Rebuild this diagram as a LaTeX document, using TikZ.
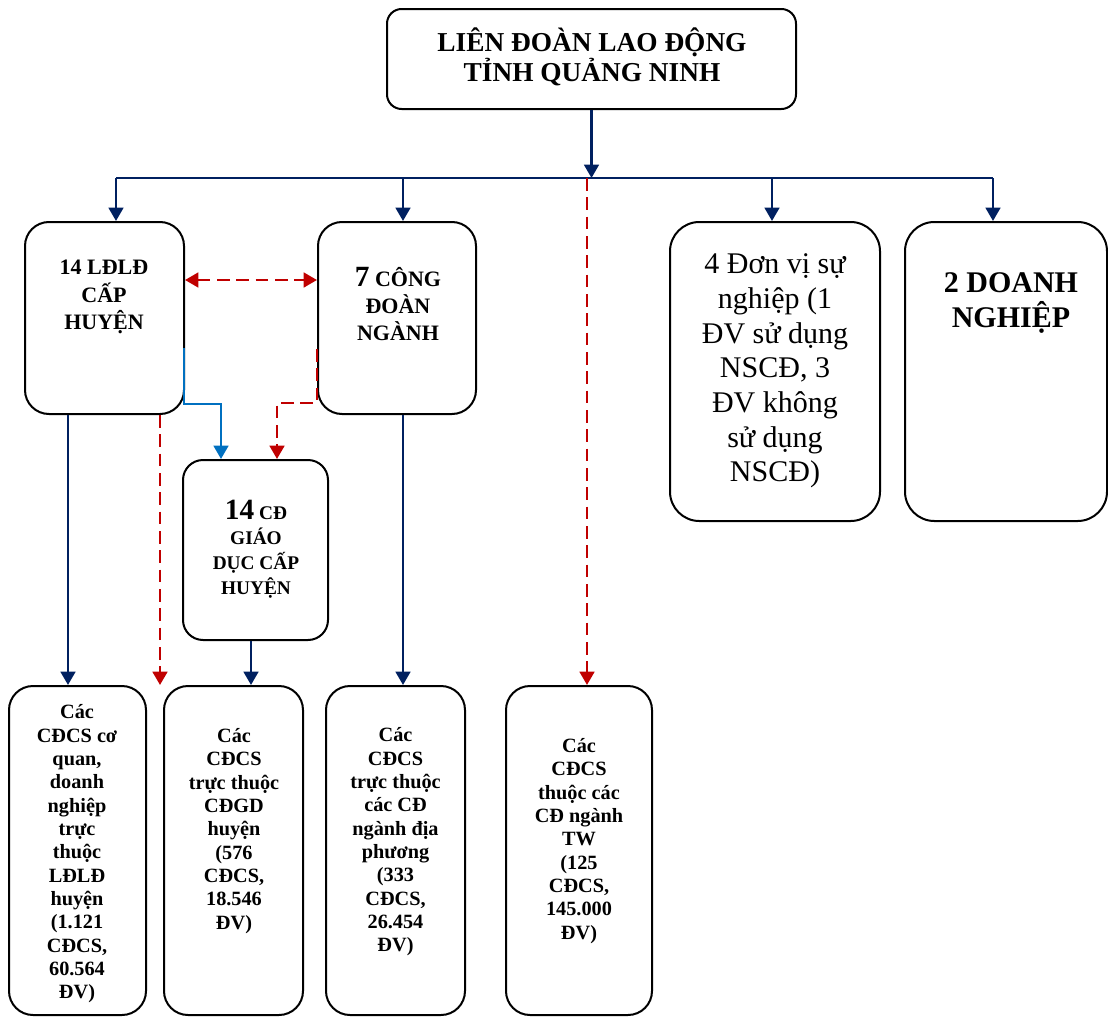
\documentclass[tikz,border=0pt]{standalone}
\usepackage{fontspec}
\setmainfont{Liberation Serif}
\usetikzlibrary{arrows.meta,calc}
\definecolor{ldNavy}{HTML}{002060}
\definecolor{ldRed}{HTML}{C00000}
\definecolor{ldBlue}{HTML}{0070C0}

\begin{document}
\begin{tikzpicture}[x=0.75pt,y=0.75pt,yscale=-1,xscale=1,
  box/.style={draw=black,line width=1.5pt,fill=white,inner sep=0pt,rounded corners=18pt},
  txt/.style={align=center,inner sep=0pt},
  small/.style={font=\fontsize{15.2}{17.5}\selectfont\bfseries},
  tip/.style={-{Triangle[width=11pt,length=10pt]}},
  navyline/.style={draw=ldNavy,line width=1.9pt},
  navyarr/.style={navyline,tip},
  redarr/.style={draw=ldRed,line width=2pt,dash pattern=on 9.5pt off 5pt,tip},
  bluearr/.style={draw=ldBlue,line width=1.9pt,tip}]
\useasboundingbox (0,0) rectangle (1108,1017);

%Rounded Rect
\node[box,rounded corners=11pt,minimum width=306.75pt,minimum height=75pt] (ldld) at (591.5,59) {};
\node[box,minimum width=119.25pt,minimum height=144pt] (huyen) at (104.5,318) {};
\node[box,minimum width=118.5pt,minimum height=144pt] (nganh) at (397,318) {};
\node[box,rounded corners=15pt,minimum width=108.75pt,minimum height=135pt] (giaoduc) at (255.5,550) {};
\node[box,rounded corners=22pt,minimum width=157.5pt,minimum height=224.25pt] (sunghiep) at (775,371.5) {};
\node[box,rounded corners=22pt,minimum width=151.5pt,minimum height=224.25pt] (doanhnghiep) at (1006,371.5) {};
\node[box,minimum width=102.75pt,minimum height=246.75pt] (cqHuyen) at (77.5,850.5) {};
\node[box,minimum width=104.25pt,minimum height=246.75pt] (cdcsGD) at (233.5,850.5) {};
\node[box,minimum width=104.25pt,minimum height=246.75pt] (cdcsNganh) at (395.5,850.5) {};
\node[box,minimum width=109.5pt,minimum height=246.75pt] (cdcsTW) at (579,850.5) {};

% Text Node
\node[txt,font=\fontsize{20.5}{22.5}\selectfont\bfseries] (ldld-t) at (592,57) {LIÊN ĐOÀN LAO ĐỘNG\\TỈNH QUẢNG NINH};
% Text Node
\node[txt,font=\fontsize{16.5}{20.6}\selectfont\bfseries] (huyen-t) at (104,297) {14 LĐLĐ\\CẤP\\HUYỆN};
% Text Node
\node[txt,font=\fontsize{16.5}{20.3}\selectfont\bfseries] (nganh-t) at (398,304) {{\fontsize{22}{22}\selectfont 7} CÔNG\\ĐOÀN\\NGÀNH};
% Text Node
\node[txt,font=\fontsize{14.5}{18.75}\selectfont\bfseries] (giaoduc-t) at (256,549) {{\fontsize{22}{22}\selectfont 14} CĐ\\GIÁO\\DỤC CẤP\\HUYỆN};
% Text Node
\node[txt,font=\fontsize{22.5}{26}\selectfont] (sunghiep-t) at (775,371) {4 Đơn vị sự\\nghiệp (1\\ĐV sử dụng\\NSCĐ, 3\\ĐV không\\sử dụng\\NSCĐ)};
% Text Node
\node[txt,font=\fontsize{22.5}{26}\selectfont\bfseries] (doanhnghiep-t) at (1011,303) {2 DOANH\\NGHIỆP};
% Text Node
\node[txt,small] (cqHuyen-t) at (77,854) {Các\\CĐCS cơ\\quan,\\doanh\\nghiệp\\trực\\thuộc\\LĐLĐ\\huyện\\(1.121\\CĐCS,\\60.564\\ĐV)};
% Text Node
\node[txt,small] (cdcsGD-t) at (234,831) {Các\\CĐCS\\trực thuộc\\CĐGD\\huyện\\(576\\CĐCS,\\18.546\\ĐV)};
% Text Node
\node[txt,small] (cdcsNganh-t) at (395.5,842) {Các\\CĐCS\\trực thuộc\\các CĐ\\ngành địa\\phương\\(333\\CĐCS,\\26.454\\ĐV)};
% Text Node
\node[txt,small] (cdcsTW-t) at (579,841) {Các\\CĐCS\\thuộc các\\CĐ ngành\\TW\\(125\\CĐCS,\\145.000\\ĐV)};

%Straight Lines
\coordinate (jA) at (116,178);
\coordinate (jB) at (403,178);
\coordinate (jC) at (587,178);
\coordinate (jD) at (772,178);
\coordinate (jE) at (993,178);
\draw[navyline] (jA) -- (jE);
\draw[navyarr] (ldld.south) -- (ldld.south |- jA);
\draw[navyarr] (jA) -- (jA |- huyen.north);
\draw[navyarr] (jB) -- (jB |- nganh.north);
\draw[navyarr] (jD) -- (jD |- sunghiep.north);
\draw[navyarr] (jE) -- (jE |- doanhnghiep.north);
\draw[redarr] (jC) -- (jC |- cdcsTW.north);

%Straight Lines
\draw[redarr,{Triangle[width=11pt,length=10pt]}-{Triangle[width=11pt,length=10pt]}] ($(huyen.east)+(0,-38)$) -- ($(nganh.west)+(0,-38)$);
\draw[bluearr] ($(huyen.east)+(-1,30)$) -- ++(0,56) -| ($(giaoduc.north)+(-34.5,0)$);
\draw[redarr] ($(nganh.west)+(0,31)$) -- ++(0,54) -| ($(giaoduc.north)+(21.5,0)$);

%Straight Lines
\draw[navyarr] ($(huyen.south)+(-36.5,0)$) coordinate (h1) -- (h1 |- cqHuyen.north);
\draw[redarr] ($(huyen.south)+(55.5,0)$) coordinate (h2) -- (h2 |- cqHuyen.north);
\draw[navyarr] ($(giaoduc.south)+(-4.5,0)$) coordinate (g1) -- (g1 |- cdcsGD.north);
\draw[navyarr] ($(nganh.south)+(6,0)$) coordinate (n1) -- (n1 |- cdcsNganh.north);

\end{tikzpicture}
\end{document}
